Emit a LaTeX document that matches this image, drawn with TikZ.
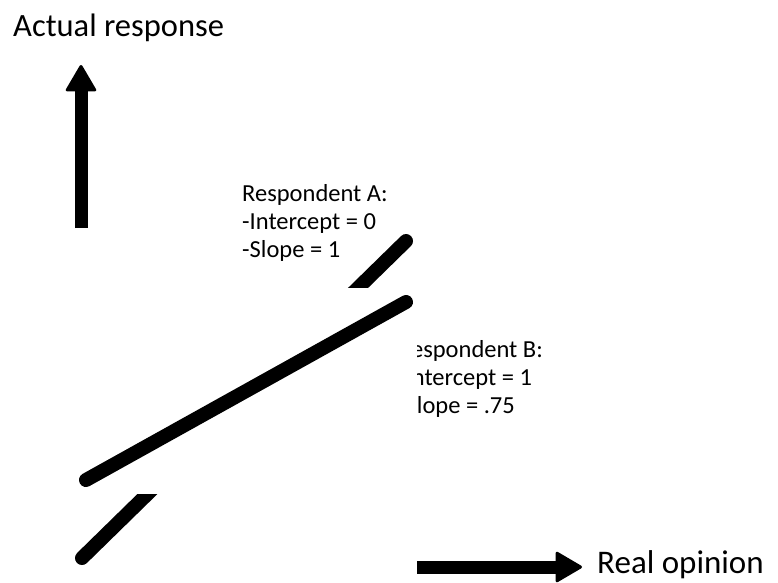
\documentclass[tikz,border=0pt]{standalone}
\usepackage{fontspec}
\setmainfont{Carlito}
\usetikzlibrary{arrows.meta}
\begin{document}
\begin{tikzpicture}[x=1pt,y=-1pt,line cap=round,
  axis/.style={line width=13pt,line cap=butt,-{Triangle[width=32pt,length=28pt,line width=3pt,round]}},
  fit line/.style={line width=14pt},
  big/.style={font=\fontsize{32.5}{39}\selectfont,inner sep=0pt},
  small/.style={font=\fontsize{24.5}{28}\selectfont,inner sep=0pt,align=left}]
  \useasboundingbox (0,0) rectangle (778,582);
  % axes
  \coordinate (yfoot) at (81,228);
  \coordinate (ytip) at (81,65);
  \coordinate (xfoot) at (417,567);
  \coordinate (xtip) at (582,567);
  \draw[axis] (yfoot) -- (ytip);
  \draw[axis] (xfoot) -- (xtip);
  \node[big,anchor=base west] (ylabel) at (13,36) {Actual response};
  \node[big,font=\fontsize{33}{40}\selectfont,anchor=base west] (xlabel) at (597,573) {Real opinion};
  % respondent A
  \coordinate (a0) at (82,558);
  \coordinate (a1) at (406,241);
  \draw[fit line] (a0) -- (a1);
  \node[small,anchor=north west] (labA) at (242,184) {Respondent A:\\-Intercept = 0\\-Slope = 1};
  % respondent B, partly hidden
  \node[small,anchor=north west] (labB) at (398,340) {Respondent B:\\-Intercept = 1\\-Slope = .75};
  \fill[white] (100,288) rectangle (417,494);
  \coordinate (b0) at (86,480);
  \coordinate (b1) at (406,302);
  \draw[fit line] (b0) -- (b1);
\end{tikzpicture}
\end{document}
